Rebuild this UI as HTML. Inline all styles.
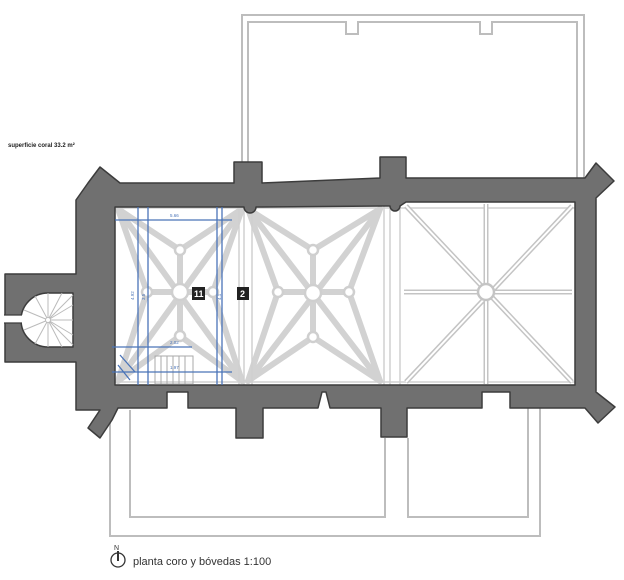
<!DOCTYPE html>
<html><head><meta charset="utf-8"><style>
html,body{margin:0;padding:0;background:#fff;}
svg{display:block}
text{font-family:"Liberation Sans",sans-serif}
</style></head><body>
<svg width="624" height="580" viewBox="0 0 624 580" xmlns="http://www.w3.org/2000/svg">
<!-- top annex -->
<g fill="none" stroke="#bdbdbd" stroke-width="2">
<path d="M242 180 V15 H584 V178"/>
<path d="M248 178 V22 H346 V34 H358 V22 H480 V34 H492 V22 H577 V178"/>
<!-- bottom annex -->
<path d="M110 410 V536 H540 V408"/>
<path d="M130 410 V517 H385 V438"/>
<path d="M408 438 V517 H528 V408"/>
</g>
<!-- vaults bay1 & bay2 -->
<g stroke="#d2d2d2" stroke-width="6" fill="none" stroke-linecap="round">
<path d="M118 209 L242 381 M242 209 L118 381"/>
<path d="M118 209 L180 250 L242 209 M118 381 L180 336 L242 381 M118 209 L147 292 L118 381 M242 209 L213 292 L242 381"/>
<path d="M180 250 V336 M147 292 H213"/>
<path d="M248 209 L380 381 M380 209 L248 381"/>
<path d="M248 209 L313 250 L380 209 M248 381 L313 337 L380 381 M248 209 L278 292 L248 381 M380 209 L349 292 L380 381"/>
<path d="M313 250 V337 M278 292 H349"/>
</g>
<g fill="#fff" stroke="#cfcfcf" stroke-width="2.5">
<circle cx="180" cy="292" r="8"/><circle cx="180" cy="250" r="5"/><circle cx="180" cy="336" r="5"/><circle cx="147" cy="292" r="5"/><circle cx="213" cy="292" r="5"/>
<circle cx="313" cy="293" r="8"/><circle cx="313" cy="250" r="5"/><circle cx="313" cy="337" r="5"/><circle cx="278" cy="292" r="5"/><circle cx="349" cy="292" r="5"/>
</g>
<!-- transverse arches -->
<g stroke="#d0d0d0" stroke-width="1.5" fill="none">
<path d="M239 205 V385 M244 205 V385 M252 205 V385 M384 205 V385 M390 205 V385 M400 205 V385"/>
<path d="M115 208 H575 M115 382 H575"/>
</g>
<!-- bay3 -->
<g stroke="#c4c4c4" stroke-width="5" fill="none">
<path d="M406 206 L572 382 M572 206 L406 382 M486 204 V384 M404 292 H572"/>
</g>
<g stroke="#fff" stroke-width="2" fill="none">
<path d="M406 206 L572 382 M572 206 L406 382 M486 204 V384 M404 292 H572"/>
</g>
<circle cx="486" cy="292" r="8" fill="#fff" stroke="#c4c4c4" stroke-width="2.5"/>
<!-- walls -->
<g fill="#707070" stroke="#3c3c3c" stroke-width="1.5" stroke-linejoin="round">
<path d="M100 167 L120 183 H234 V162 H262 V183 L380 178 V157 H406 V178 H585 L596 163 L614 181 L596 198 V392 L615 407 L598 423 L585 408 H510 V392 H482 V408 H407 V437 H381 V408 H330 L326 392 H322 L318 408 H263 V438 H236 V408 H188 V392 H167 V408 H118 L112 420 L100 438 L88 428 L100 410 H76 V362 H5 V274 H76 V200 L88 183 Z
M115 207 V385 H575 V202 H406 L400 206 A5 5 0 0 1 390 206 H382 L262 207 L256 207 A6 6 0 0 1 244 207 Z" fill-rule="evenodd"/>
<path d="M73 293 H48 A27 27 0 0 0 48 347 H73 Z" fill="#fff"/>
</g>
<rect x="4" y="315" width="19" height="8" fill="#fff"/>
<path d="M4 315 H22 M4 323 H22" stroke="#3c3c3c" stroke-width="1.2"/>
<!-- spiral stair -->
<g stroke="#bbb" stroke-width="1" fill="none">
<path d="M48 320 L73 295 M48 320 L73 305 M48 320 L73 320 M48 320 L73 335 M48 320 L73 345 M48 320 L48 293 M48 320 L35 296 M48 320 L24 310 M48 320 L24 330 M48 320 L35 344 M48 320 L48 347 M48 320 L62 347 M48 320 L62 293"/>
<circle cx="48" cy="320" r="2.5" fill="#fff"/>
</g>
<!-- choir stair -->
<g stroke="#aaa" stroke-width="1" fill="none">
<rect x="155" y="356" width="38" height="28"/>
<path d="M161 356 V384 M167 356 V384 M173 356 V384 M179 356 V384 M185 356 V384"/>
</g>
<!-- blue overlay -->
<g stroke="#4a74b8" stroke-width="1.3" fill="none">
<path d="M138 207 V385 M148 207 V385 M217 207 V385 M222 207 V385"/>
<path d="M115 220 H232 M112 347 H192 M112 372 H232"/>
<path d="M118 365 L130 380 M120 355 L135 372"/>
</g>
<g fill="#4a74b8" font-size="4.5">
<text x="170" y="217">5.66</text>
<text x="170" y="344">2.02</text>
<text x="170" y="369">1.97</text>
<text x="134" y="300" transform="rotate(-90 134 300)">4.92</text>
<text x="145" y="300" transform="rotate(-90 145 300)">3.5</text>
<text x="221" y="300" transform="rotate(-90 221 300)">4.1</text>
</g>
<!-- labels -->
<rect x="192" y="287" width="13" height="13" fill="#222"/>
<text x="194" y="297" font-size="9" font-weight="bold" fill="#fff">11</text>
<rect x="237" y="287" width="12" height="13" fill="#222"/>
<text x="240" y="297" font-size="9" font-weight="bold" fill="#fff">2</text>
<text x="8" y="147" font-size="6" font-weight="bold" fill="#222">superficie coral 33.2 m²</text>
<!-- north & caption -->
<text x="114" y="550" font-size="7" fill="#333">N</text>
<circle cx="118" cy="560" r="7" fill="none" stroke="#333" stroke-width="1.3"/>
<path d="M118 551 V561" stroke="#333" stroke-width="2"/>
<text x="133" y="565" font-size="11" fill="#333">planta coro y bóvedas  1:100</text>
</svg>
</body></html>
